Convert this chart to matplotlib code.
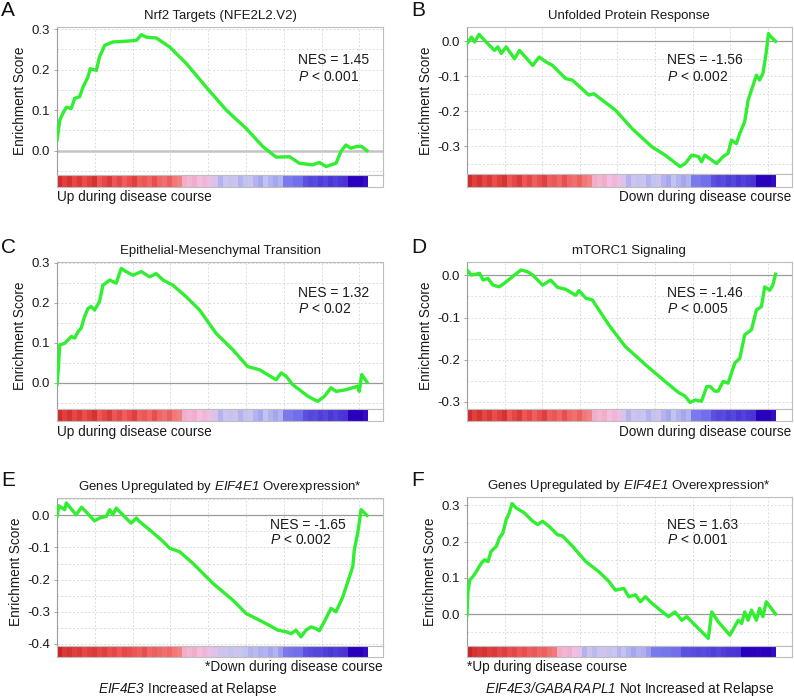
import numpy as np
import matplotlib
matplotlib.use("Agg")
import matplotlib.pyplot as plt
from matplotlib.colors import LinearSegmentedColormap, Normalize
from matplotlib.ticker import MultipleLocator, FixedLocator

plt.rcParams['font.family'] = ['Liberation Sans', 'DejaVu Sans']
plt.rcParams['mathtext.fontset'] = 'custom'
plt.rcParams['mathtext.rm'] = 'Liberation Sans'
plt.rcParams['mathtext.it'] = 'Liberation Sans:italic'
plt.rcParams['mathtext.sf'] = 'Liberation Sans:italic'
plt.rcParams['mathtext.bf'] = 'Liberation Sans:bold'

# ---------------- data (x = fraction of ranked gene list) ----------------
xA = [0, 0.009, 0.019, 0.030, 0.046, 0.057, 0.073, 0.084, 0.100, 0.107, 0.127, 0.137, 0.154, 0.180, 0.223,
      0.256, 0.272, 0.288, 0.320, 0.363, 0.417, 0.481, 0.546, 0.610, 0.664, 0.707, 0.750, 0.782, 0.825,
      0.846, 0.868, 0.900, 0.916, 0.932, 0.948, 0.965, 0.981, 1.0]
esA = [0.026, 0.075, 0.092, 0.107, 0.104, 0.129, 0.133, 0.157, 0.182, 0.202, 0.198, 0.231, 0.260, 0.268, 0.270,
       0.272, 0.286, 0.280, 0.278, 0.256, 0.215, 0.157, 0.100, 0.055, 0.010, -0.016, -0.015, -0.031, -0.035,
       -0.029, -0.039, -0.031, -0.002, 0.014, 0.006, 0.010, 0.011, 0.0]

xB = [0, 0.014, 0.025, 0.039, 0.062, 0.089, 0.100, 0.111, 0.127, 0.154, 0.170, 0.213, 0.234, 0.256, 0.277,
      0.320, 0.341, 0.395, 0.411, 0.481, 0.535, 0.599, 0.642, 0.691, 0.707, 0.728, 0.750, 0.760, 0.771,
      0.793, 0.809, 0.830, 0.846, 0.857, 0.873, 0.884, 0.900, 0.911, 0.927, 0.938, 0.948, 0.959, 0.970,
      0.977, 0.986, 1.0]
esB = [-0.007, 0.012, -0.002, 0.020, -0.002, -0.026, -0.016, -0.035, -0.016, -0.050, -0.026, -0.069, -0.045,
       -0.059, -0.069, -0.107, -0.111, -0.154, -0.150, -0.197, -0.250, -0.302, -0.326, -0.359, -0.350, -0.326,
       -0.330, -0.345, -0.326, -0.340, -0.350, -0.330, -0.321, -0.283, -0.293, -0.264, -0.230, -0.169, -0.126,
       -0.097, -0.111, -0.092, -0.030, 0.022, 0.012, 0.0]

xC = [0, 0.004, 0.009, 0.025, 0.046, 0.057, 0.068, 0.078, 0.089, 0.100, 0.110, 0.121, 0.137, 0.148, 0.170,
      0.191, 0.207, 0.223, 0.245, 0.272, 0.299, 0.320, 0.342, 0.374, 0.417, 0.460, 0.513, 0.567, 0.615,
      0.653, 0.707, 0.723, 0.739, 0.760, 0.809, 0.841, 0.863, 0.884, 0.900, 0.932, 0.970, 0.975, 0.983, 1.0]
esC = [-0.004, 0.033, 0.095, 0.099, 0.116, 0.112, 0.128, 0.137, 0.166, 0.186, 0.191, 0.182, 0.203, 0.244,
       0.257, 0.249, 0.286, 0.278, 0.269, 0.278, 0.265, 0.273, 0.257, 0.244, 0.215, 0.182, 0.124, 0.083, 0.041,
       0.033, 0.008, 0.025, 0.017, -0.004, -0.033, -0.046, -0.033, -0.012, -0.021, -0.017, -0.008, -0.021,
       0.021, 0.002]

xD = [0, 0.014, 0.041, 0.052, 0.068, 0.084, 0.105, 0.127, 0.154, 0.175, 0.196, 0.213, 0.245, 0.271, 0.293,
      0.320, 0.352, 0.363, 0.385, 0.406, 0.460, 0.513, 0.578, 0.642, 0.685, 0.707, 0.723, 0.739, 0.760,
      0.777, 0.788, 0.803, 0.814, 0.830, 0.846, 0.857, 0.868, 0.884, 0.900, 0.922, 0.938, 0.954, 0.965,
      0.981, 0.991, 1.0]
esD = [0.013, 0.001, 0.005, -0.011, -0.007, -0.023, -0.027, -0.015, 0.001, 0.013, 0.009, 0.001, -0.023,
       -0.011, -0.028, -0.033, -0.047, -0.036, -0.054, -0.058, -0.118, -0.169, -0.212, -0.252, -0.278, -0.287,
       -0.302, -0.296, -0.299, -0.264, -0.264, -0.275, -0.275, -0.252, -0.256, -0.232, -0.208, -0.197, -0.141,
       -0.129, -0.082, -0.074, -0.027, -0.035, -0.023, 0.003]

xE = [0, 0.006, 0.025, 0.030, 0.062, 0.079, 0.100, 0.121, 0.137, 0.159, 0.170, 0.180, 0.191, 0.207, 0.239,
      0.256, 0.266, 0.299, 0.342, 0.363, 0.395, 0.438, 0.503, 0.567, 0.610, 0.653, 0.685, 0.712, 0.739,
      0.755, 0.771, 0.787, 0.803, 0.819, 0.835, 0.846, 0.862, 0.884, 0.900, 0.922, 0.938, 0.954, 0.959,
      0.970, 0.981, 1.0]
esE = [-0.003, 0.030, 0.018, 0.039, 0.002, 0.026, 0.005, -0.017, -0.008, -0.003, 0.018, 0.002, 0.023, 0.007,
       -0.024, -0.008, -0.019, -0.045, -0.081, -0.102, -0.113, -0.149, -0.212, -0.264, -0.306, -0.327, -0.343,
       -0.358, -0.363, -0.369, -0.358, -0.379, -0.358, -0.348, -0.353, -0.360, -0.332, -0.290, -0.301, -0.254,
       -0.207, -0.160, -0.108, -0.055, 0.018, 0.0]

xF = [0, 0.003, 0.009, 0.019, 0.030, 0.046, 0.057, 0.068, 0.078, 0.095, 0.105, 0.116, 0.127, 0.137, 0.146,
      0.159, 0.186, 0.213, 0.229, 0.245, 0.266, 0.293, 0.309, 0.342, 0.385, 0.427, 0.460, 0.481, 0.508,
      0.524, 0.546, 0.562, 0.578, 0.599, 0.626, 0.653, 0.674, 0.696, 0.712, 0.728, 0.782, 0.793, 0.814,
      0.852, 0.879, 0.890, 0.900, 0.911, 0.922, 0.938, 0.948, 0.959, 0.970, 1.0]
esF = [-0.003, 0.062, 0.094, 0.103, 0.117, 0.140, 0.150, 0.145, 0.173, 0.187, 0.210, 0.223, 0.260, 0.279,
       0.305, 0.293, 0.279, 0.256, 0.247, 0.256, 0.242, 0.219, 0.216, 0.187, 0.145, 0.117, 0.090, 0.066, 0.071,
       0.048, 0.053, 0.034, 0.048, 0.030, 0.011, -0.007, 0.006, -0.017, -0.007, -0.021, -0.067, 0.006, -0.021,
       -0.058, -0.017, -0.026, 0.006, -0.017, 0.011, -0.017, 0.016, -0.007, 0.034, 0.0]

# ranked-list metric strips (equal-width segments, +1 = up / red, -1 = down / blue)
heat_AD = [0.9, 0.75, 0.85, 0.7, 0.8, 0.65, 0.75, 0.85, 0.6, 0.7, 0.8, 0.6, 0.7, 0.55, 0.65, 0.75, 0.55,
           0.6, 0.5, 0.65, 0.5, 0.45, 0.55, 0.4, 0.35,
           0.1, 0.05, 0.1, 0.0, 0.05, -0.05, -0.12,
           -0.3, -0.2, -0.25, -0.2, -0.3, -0.25, -0.2, -0.3, -0.35, -0.25, -0.3, -0.35, -0.3,
           -0.5, -0.5, -0.55, -0.55,
           -0.7, -0.75, -0.72, -0.78, -0.75, -0.8, -0.77, -0.8, -0.82,
           -1.0, -1.0, -1.0, -0.95]
heat_E = [0.95, 0.8, 0.85, 0.75, 0.8, 0.7, 0.75, 0.8, 0.7, 0.75, 0.65, 0.7, 0.6, 0.7, 0.65, 0.6, 0.55,
          0.65, 0.5, 0.55, 0.5, 0.45, 0.5, 0.4, 0.35,
          0.1, 0.05, 0.1, 0.0, 0.05, -0.05, -0.1,
          -0.2, -0.2, -0.25, -0.2, -0.22, -0.25, -0.3, -0.28, -0.32, -0.3, -0.35, -0.3, -0.38,
          -0.5, -0.52, -0.55, -0.55,
          -0.7, -0.72, -0.75, -0.75, -0.78, -0.8, -0.78, -0.8, -0.82,
          -1.0, -1.0, -1.0, -0.95]
heat_F = [0.95, 0.85, 0.8, 0.85, 0.75, 0.8, 0.7, 0.75, 0.65, 0.7, 0.6, 0.65, 0.55, 0.6, 0.5, 0.55, 0.45, 0.4,
          0.1, 0.05, 0.08, 0.0, -0.05,
          -0.3, -0.22, -0.28, -0.2, -0.2, -0.25, -0.2, -0.3, -0.25, -0.3, -0.35, -0.3, -0.32, -0.38,
          -0.5, -0.5, -0.52, -0.52, -0.55, -0.55,
          -0.7, -0.7, -0.72, -0.75, -0.72, -0.75, -0.78, -0.75, -0.78, -0.8, -0.8, -0.82,
          -1.0, -1.0, -1.0, -0.98, -1.0, -1.0, -0.95]

titles = ["Nrf2 Targets (NFE2L2.V2)", "Unfolded Protein Response", "Epithelial-Mesenchymal Transition",
          "mTORC1 Signaling", r"Genes Upregulated by $\mathsf{EIF4E1}$ Overexpression*",
          r"Genes Upregulated by $\mathsf{EIF4E1}$ Overexpression*"]
nes_labels = ["NES = 1.45", "NES = -1.56", "NES = 1.32", "NES = -1.46", "NES = -1.65", "NES = 1.63"]
p_labels = [r"$\mathsf{P}$ < 0.001", r"$\mathsf{P}$ < 0.002", r"$\mathsf{P}$ < 0.02",
            r"$\mathsf{P}$ < 0.005", r"$\mathsf{P}$ < 0.002", r"$\mathsf{P}$ < 0.001"]
yticks_list = [[0.0, 0.1, 0.2, 0.3], [-0.3, -0.2, -0.1, 0.0], [0.0, 0.1, 0.2, 0.3],
               [-0.3, -0.2, -0.1, 0.0], [-0.4, -0.3, -0.2, -0.1, 0.0], [0.0, 0.1, 0.2, 0.3]]
panel_letters = ["A", "B", "C", "D", "E", "F"]

# ---------------- figure ----------------
W, H = 794, 698
fig = plt.figure(figsize=(W / 100, H / 100), dpi=100)

def rect(l, r, t, b):
    return [l / W, 1 - b / H, (r - l) / W, (b - t) / H]

def fx(px):
    return px / W

def fy(py):
    return 1 - py / H

cmap = LinearSegmentedColormap.from_list("gsea", [
    (0.0, "#2a00bf"), (0.12, "#5444dc"), (0.25, "#7a7aee"), (0.38, "#c6c6f0"),
    (0.50, "#f3bfe3"), (0.68, "#f18080"), (0.82, "#ec5050"), (1.0, "#c81e1e")])
norm = Normalize(-1, 1)

XMAX = 1.0516
grid_x = [k * 0.1219 for k in range(1, 9)]

panels = [
    dict(x=xA, es=esA, heat=heat_AD, box=(57, 383, 27, 175, 187), ylim=(-0.06, 0.305), nes=(298, 60.5, 76.7)),
    dict(x=xB, es=esB, heat=heat_AD, box=(467, 791.5, 27, 174, 187), ylim=(-0.38, 0.041), nes=(667, 60.5, 76.7)),
    dict(x=xC, es=esC, heat=heat_AD, box=(57, 383, 262, 409, 421), ylim=(-0.065, 0.302), nes=(298, 293.3, 309.5)),
    dict(x=xD, es=esD, heat=heat_AD, box=(467, 791.5, 262, 409, 421), ylim=(-0.3175, 0.032), nes=(667, 293.3, 309.5)),
    dict(x=xE, es=esE, heat=heat_E, box=(57, 383, 498, 646, 657), ylim=(-0.4075, 0.0545), nes=(270, 525, 540.5)),
    dict(x=xF, es=esF, heat=heat_F, box=(467, 791.5, 497, 646, 657), ylim=(-0.088, 0.323), nes=(667, 525, 540.5)),
]

grid_col = "#dcdcdc"
spine_col = "#bdbdbd"

for i, p in enumerate(panels):
    l, r, t, b, hb = p["box"]
    ax = fig.add_axes(rect(l, r, t, b))
    ax.set_xlim(0, XMAX)
    ax.set_ylim(*p["ylim"])
    ax.xaxis.set_major_locator(FixedLocator(grid_x))
    ax.yaxis.set_major_locator(FixedLocator(yticks_list[i]))
    ax.yaxis.set_minor_locator(MultipleLocator(0.05))
    ax.grid(True, which="both", color=grid_col, linestyle=(0, (2, 2)), linewidth=0.7)
    ax.set_axisbelow(True)
    ax.tick_params(axis="x", length=0, labelbottom=False)
    ax.tick_params(axis="y", which="major", length=2, width=0.6, color="#999999", pad=3,
                   labelsize=9.5, labelcolor="#1a1a1a")
    ax.tick_params(axis="y", which="minor", length=0)
    ax.set_yticklabels([f"{v:.1f}" for v in yticks_list[i]])
    for s in ax.spines.values():
        s.set_color(spine_col)
        s.set_linewidth(0.8)
    ax.spines["left"].set_color("#9a9a9a")
    zlw, zcol = (1.8, "#c4c4c4") if i == 0 else (0.9, "#9a9a9a")
    ax.axhline(0, color=zcol, linewidth=zlw, zorder=2)
    ax.plot(p["x"], p["es"], color="#30ee30", linewidth=2.4, solid_joinstyle="round", zorder=3)
    ax.set_ylabel("Enrichment Score", fontsize=9.8, color="#1a1a1a", labelpad=3)
    ax.set_title(titles[i], fontsize=9.5, color="#1a1a1a", pad=6)

    # heat strip
    hx = fig.add_axes(rect(l, r, b, hb))
    hx.set_xlim(0, XMAX)
    hx.set_ylim(0, 1)
    hx.imshow(np.array(p["heat"])[None, :], cmap=cmap, norm=norm, aspect="auto",
              extent=[0, 1, 0, 1], interpolation="nearest")
    hx.set_xticks([])
    hx.set_yticks([])
    for s in hx.spines.values():
        s.set_color(spine_col)
        s.set_linewidth(0.8)

    nx, ny1, ny2 = p["nes"]
    fig.text(fx(nx), fy(ny1), nes_labels[i], fontsize=10, va="center", ha="left", color="#1a1a1a")
    fig.text(fx(nx), fy(ny2), p_labels[i], fontsize=10, va="center", ha="left", color="#1a1a1a")

# panel letters
letter_pos = [(1, 11), (411, 11), (1, 248), (411, 248), (1, 481), (411, 481)]
for L, (px, py) in zip(panel_letters, letter_pos):
    fig.text(fx(px), fy(py), L, fontsize=15, va="center", ha="left", color="#111111")

# direction labels
fs = 9.8
fig.text(fx(57), fy(197), "Up during disease course", fontsize=fs, ha="left", va="center", color="#1a1a1a")
fig.text(fx(791.5), fy(197), "Down during disease course", fontsize=fs, ha="right", va="center", color="#1a1a1a")
fig.text(fx(57), fy(432), "Up during disease course", fontsize=fs, ha="left", va="center", color="#1a1a1a")
fig.text(fx(791.5), fy(432), "Down during disease course", fontsize=fs, ha="right", va="center", color="#1a1a1a")
fig.text(fx(383), fy(667), "*Down during disease course", fontsize=fs, ha="right", va="center", color="#1a1a1a")
fig.text(fx(467), fy(667), "*Up during disease course", fontsize=fs, ha="left", va="center", color="#1a1a1a")
fig.text(fx(188), fy(689), r"$\mathsf{EIF4E3}$ Increased at Relapse", fontsize=fs, ha="center", va="center",
         color="#1a1a1a")
fig.text(fx(630), fy(689), r"$\mathsf{EIF4E3/GABARAPL1}$ Not Increased at Relapse", fontsize=fs, ha="center",
         va="center", color="#1a1a1a")

fig.savefig("out.png", dpi=100)
